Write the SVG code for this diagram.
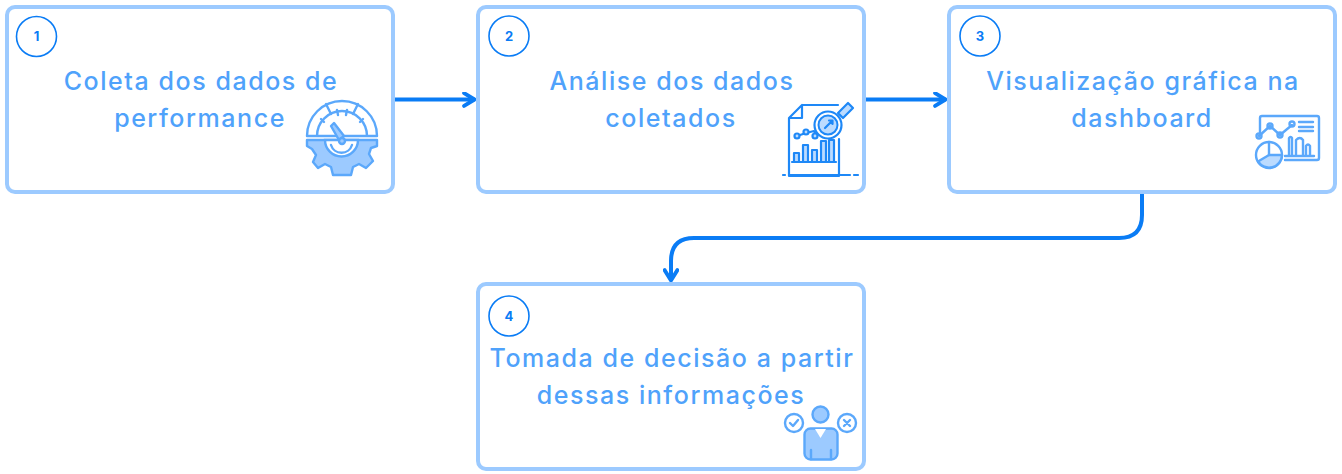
<svg xmlns="http://www.w3.org/2000/svg" width="1342" height="474" viewBox="0 0 1342 474">
<defs>
<style>
.box{fill:#fff;stroke:#9CCAFF;stroke-width:4}
.badge{fill:#fff;stroke:#0A7CF5;stroke-width:1.6}
.num{font:700 13px "Inter","Liberation Sans",sans-serif;fill:#0A7CF5;text-anchor:middle}
.lbl{font:450 25px "Inter","Liberation Sans",sans-serif;fill:#4FA2FB;text-anchor:middle;letter-spacing:1.55px}
.conn{fill:none;stroke:#0A7CF5;stroke-width:4}
.ic{fill:none;stroke:#5BA8FB;stroke-width:2.400;stroke-linecap:round;stroke-linejoin:round}
.icf{fill:#9CCAFF;stroke:#5BA8FB;stroke-width:2.400;stroke-linejoin:round}
.id{fill:none;stroke:#1E88F7;stroke-width:2.200;stroke-linecap:round;stroke-linejoin:round}
.idf{fill:#BBDBFF;stroke:#1E88F7;stroke-width:2.200;stroke-linejoin:round}
</style>
<marker id="ah" viewBox="0 0 10 10" refX="8.5" refY="5" markerWidth="4" markerHeight="4" orient="auto" markerUnits="strokeWidth">
<path d="M2 1 L8.5 5 L2 9" fill="none" stroke="#0A7CF5" stroke-width="2.4" stroke-linecap="round" stroke-linejoin="round"/>
</marker>
</defs>
<rect width="1342" height="474" fill="#fff"/>
<g id="connectors">
<path class="conn" d="M395 99.5H474.500" marker-end="url(#ah)"/>
<path class="conn" d="M866 99.5H945.500" marker-end="url(#ah)"/>
<path class="conn" d="M1142 194V215Q1142 238 1119 238H694Q671 238 671 261V280.500" marker-end="url(#ah)"/>
</g>
<g id="node1">
<rect class="box" x="7" y="7" width="386" height="185" rx="8"/>
<circle class="badge" cx="36.5" cy="36.5" r="20"/>
<text class="num" x="36.5" y="41">1</text>
<text class="lbl" x="201" y="90">Coleta dos dados de</text>
<text class="lbl" x="200" y="127">performance</text>
<g>
<path class="ic" d="M307 136A35 35 0 0 1 377 136ZM317 136A25 25 0 0 1 367 136"/>
<path class="ic" d="M326 104L331 114M358 104L353 114M321 119L324 122M363 119L360 122M337 110L338 115M347 110L346 115"/>
<path class="icf" d="M307 140H377V146L371 148L369 154L373 161L366 168L359 164L353 167L351 175H333L331 167L325 164L318 168L313 162L316 155L312 149L307 146Z"/>
<path d="M325 140A16.500 16.500 0 0 0 358 140Z" fill="#fff" stroke="#5BA8FB" stroke-width="2.400"/>
<path class="ic" d="M331 145A11 11 0 0 0 352 145"/>
<path class="icf" d="M331 126L334 123L344 136L339 140Z"/>
<circle class="icf" cx="342" cy="141" r="3"/>
</g>
</g>
<g id="node2">
<rect class="box" x="478" y="7" width="386" height="185" rx="8"/>
<circle class="badge" cx="509" cy="36" r="20"/>
<text class="num" x="509" y="40.500">2</text>
<text class="lbl" x="672" y="90">Análise dos dados</text>
<text class="lbl" x="671" y="127">coletados</text>
<g>
<path class="id" d="M802 105H838M789 118V176H839V139M789 118L802 105V118Z"/>
<path class="id" d="M783 175H785M789 175H850M854 175H858"/>
<path class="id" d="M797 136L806 133L814 131L815 133L824 136"/>
<circle class="idf" cx="797" cy="136" r="2.500"/><circle class="idf" cx="806" cy="132" r="2.500"/><circle class="idf" cx="815" cy="136" r="2.500"/>
<path class="idf" d="M794 153H799V162H794ZM803 145H808V162H803ZM812 150H817V162H812ZM821 141H826V162H821ZM829 140H834V162H829Z"/>
<path class="id" d="M792 162H836"/>
<path class="idf" d="M838 113L848 103L853 108L843 118Z"/>
<circle cx="828" cy="125" r="13.500" fill="#fff" stroke="#1E88F7" stroke-width="2.200"/>
<circle cx="828" cy="125" r="9.500" fill="#BBDBFF" stroke="#1E88F7" stroke-width="2"/>
<path class="id" d="M825 128L832 121M829 120.500H832.500V124"/>
</g>
</g>
<g id="node3">
<rect class="box" x="949" y="7" width="386" height="185" rx="8"/>
<circle class="badge" cx="980" cy="36" r="20"/>
<text class="num" x="980" y="40.500">3</text>
<text class="lbl" x="1143" y="90">Visualização gráfica na</text>
<text class="lbl" x="1142" y="127">dashboard</text>
<g>
<path class="ic" d="M1260 132V118Q1260 116 1262 116H1317Q1319 116 1319 118V158Q1319 160 1317 160H1285"/>
<path class="ic" d="M1259 136L1270 126L1280 135L1292 125"/>
<circle class="ic" cx="1259" cy="136" r="2.500" fill="#fff"/><circle class="ic" cx="1270" cy="126" r="2.500" fill="#fff"/><circle class="ic" cx="1280" cy="135" r="2.500" fill="#fff"/><circle class="ic" cx="1292" cy="124" r="2.500" fill="#fff"/>
<path class="ic" d="M1299 122H1313M1299 127H1313M1299 131H1313"/>
<path class="ic" d="M1289 156V138Q1291 136 1292 138V156M1296 156V140Q1300 136 1303 140V156M1306 156V146Q1308 143 1310 146V156M1285 156H1314"/>
<circle cx="1269" cy="155" r="13" fill="#fff" stroke="#5BA8FB" stroke-width="2.400"/>
<path d="M1258 161.500A13 13 0 0 0 1282 155L1269 155Z" fill="#BBDBFF" stroke="#5BA8FB" stroke-width="2.400" stroke-linejoin="round"/>
<path class="ic" d="M1269 142V155"/>
</g>
</g>
<g id="node4">
<rect class="box" x="478" y="284" width="386" height="185" rx="8"/>
<circle class="badge" cx="509" cy="316" r="20"/>
<text class="num" x="509" y="320.500">4</text>
<text class="lbl" x="672" y="367">Tomada de decisão a partir</text>
<text class="lbl" x="671" y="404">dessas informações</text>
<g>
<circle class="icf" cx="820.500" cy="414.500" r="8"/>
<rect class="icf" x="804.500" y="428.500" width="33" height="31" rx="6"/>
<path d="M815 429H826L820.500 438Z" fill="#fff"/>
<path class="ic" d="M811 450V459M831 450V459"/>
<circle class="ic" cx="794" cy="423" r="9"/>
<path class="ic" d="M790 423L793 426L798 420"/>
<circle class="ic" cx="847" cy="423" r="9"/>
<path class="ic" d="M844 420L850 426M850 420L844 426"/>
</g>
</g>
</svg>
